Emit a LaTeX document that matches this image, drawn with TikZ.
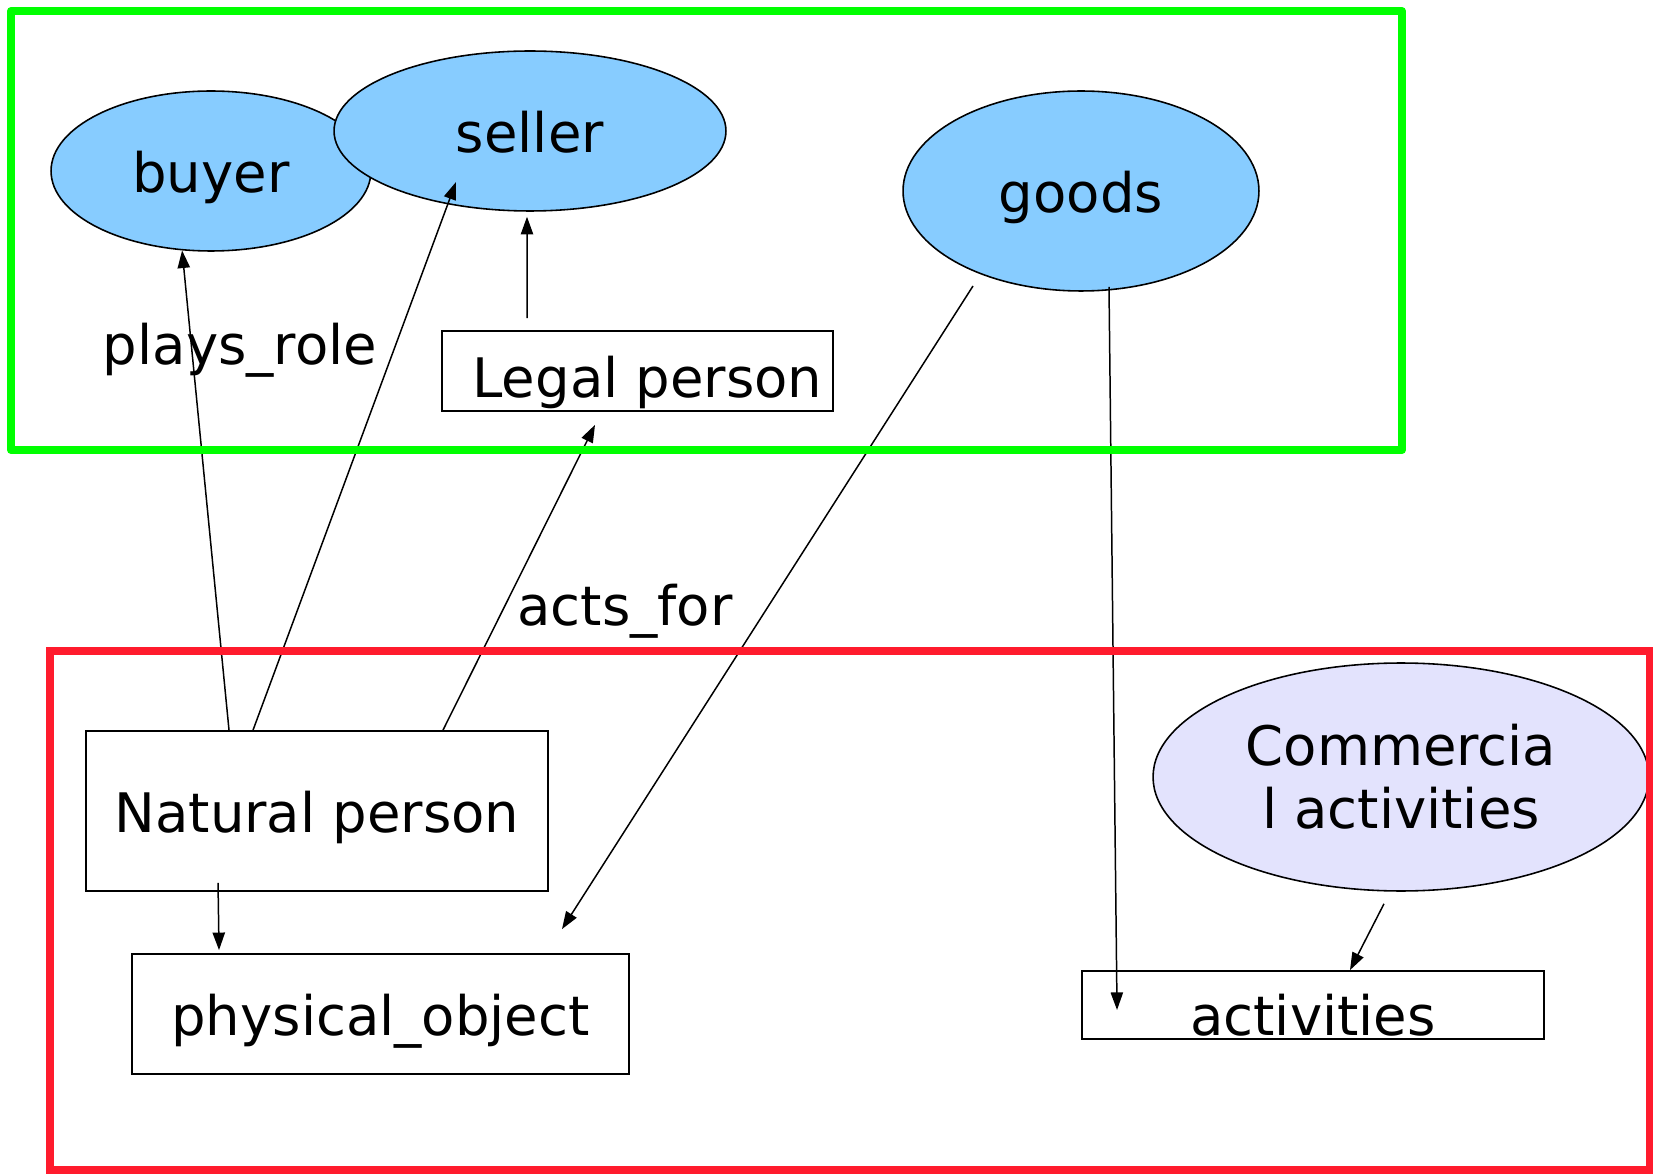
\documentclass[tikz,border=0pt]{standalone}
\usepackage{fontspec}
\setmainfont{DejaVu Sans}
\usetikzlibrary{positioning}
\usetikzlibrary{shapes.geometric}
\usetikzlibrary{arrows.meta}
\definecolor{roleColor}{HTML}{87CCFF}
\definecolor{activityColor}{HTML}{E3E3FD}
\definecolor{legalColor}{HTML}{00FF00}
\definecolor{naturalColor}{HTML}{FF1B2D}
\tikzset{
  baseline fix/.style={text height=#1, text depth=0pt},
  baseline fix/.default=24.6pt,
  concept/.style={draw, ellipse, fill=roleColor, line width=0.9pt, inner sep=0pt},
  kind/.style={draw, rectangle, line width=1pt, inner sep=0pt},
  relname/.style={inner sep=0pt, baseline fix},
  link/.style={-{Triangle[length=10pt,width=7pt]}, line width=0.85pt},
}

\begin{document}
\begin{tikzpicture}[x=0.02cm, y=-0.02cm, font=\fontsize{31}{36}\selectfont]
  \useasboundingbox (0,0) rectangle (1653,1175);
  % roles
  \node[concept, baseline fix, minimum width=6.4cm, minimum height=3.2cm] (buyer) at (211,171) {buyer};
  \node[concept, baseline fix, minimum width=7.84cm, minimum height=3.2cm] (seller) at (530,131) {seller};
  \node[concept, baseline fix, minimum width=7.12cm, minimum height=4cm] (goods) at (1081,191) {goods};
  \node[kind, baseline fix=30.6pt, minimum width=7.82cm, minimum height=1.6cm] (legal) at (637.5,371) {\hspace{0.4cm}Legal person};
  % kinds
  \node[kind, baseline fix, minimum width=9.24cm, minimum height=3.2cm] (natural) at (317,811) {Natural person};
  \node[kind, baseline fix, minimum width=9.94cm, minimum height=2.4cm] (physical) at (380.5,1014) {physical\_object};
  \node[concept, fill=activityColor, minimum width=9.92cm, minimum height=4.56cm, align=center] (commercial) at (1401,777) {Commercia\\l activities};
  \node[kind, baseline fix=35pt, minimum width=9.24cm, minimum height=1.36cm] (activities) at (1313,1005) {activities\hspace{0.2cm}};
  \node[relname] (playsrole) at (240,343) {plays\_role};
  \node[relname] (actsfor) at (625,604) {acts\_for};
  \coordinate (sellerin) at (456,182);
  \coordinate (goodsout) at (973,286);
  % connectors
  \draw[link] ([xshift=-1.76cm]natural.north) -- (buyer.250);
  \draw[link] ([xshift=-1.28cm]natural.north) -- (sellerin);
  \draw[link] ([xshift=-2.21cm,yshift=0.24cm]legal.north) -- ([xshift=-0.06cm,yshift=-0.1cm]seller.south);
  \draw[link] ([xshift=2.52cm]natural.north) -- ([xshift=-0.85cm,yshift=-0.26cm]legal.south);
  \draw[link] (goodsout) -- ([xshift=3.63cm,yshift=0.48cm]physical.north);
  \draw[link] ([xshift=0.56cm,yshift=0.1cm]goods.south) -- ([xshift=-3.92cm,yshift=-0.1cm]activities.center);
  \draw[link] ([xshift=-1.98cm,yshift=0.18cm]natural.south) -- ([xshift=-3.23cm,yshift=0.06cm]physical.north);
  \draw[link] ([xshift=-0.34cm,yshift=-0.24cm]commercial.south) -- ([xshift=0.74cm]activities.north);
  % frames
  \draw[legalColor, line width=4.6pt, line join=round] (11,11) rectangle (1402,450);
  \draw[naturalColor, line width=5pt] (50,651) rectangle (1650,1170);
\end{tikzpicture}
\end{document}
